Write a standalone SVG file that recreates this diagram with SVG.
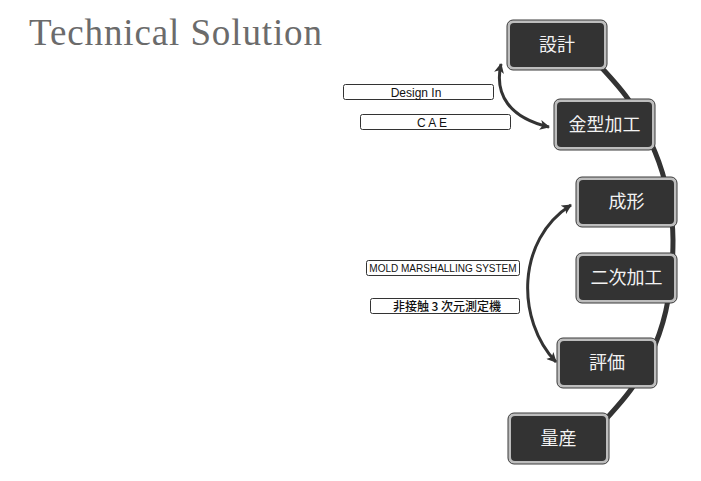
<svg xmlns="http://www.w3.org/2000/svg" width="701" height="481" viewBox="0 0 701 481">
<defs>
<style>
.title{font-family:"Liberation Serif","DejaVu Serif",serif;font-size:37px;fill:#6b6b6b}
.nodeOuter{fill:#bdbdbd;stroke:#3a3a3a;stroke-width:1}
.nodeInner{fill:#333333}
.nodeText{font-family:"Noto Sans CJK JP","Noto Sans",sans-serif;font-size:18px;fill:#f2f2f2;text-anchor:middle}
.lbl{fill:#ffffff;stroke:#333333;stroke-width:1}
.lblText{font-family:"Liberation Sans","Noto Sans CJK JP",sans-serif;font-size:12px;fill:#111111;text-anchor:middle}
.flow{fill:none;stroke:#333333;stroke-width:5}
.arc{fill:none;stroke:#333333;stroke-width:3}
</style>
<marker id="ah" viewBox="0 0 10 10" refX="9" refY="5" markerWidth="11" markerHeight="10" markerUnits="userSpaceOnUse" orient="auto-start-reverse">
<path d="M0,0 L10,5 L0,10 L2.5,5 Z" fill="#333333"/>
</marker>
</defs>
<rect width="701" height="481" fill="#ffffff"/>
<text class="title" x="29" y="45" textLength="293" lengthAdjust="spacing">Technical Solution</text>

<g id="connectors">
<path class="flow" d="M585,50 C592.2,58.2 616.3,82 628,99 C639.7,116 648.3,136 655,152 C661.7,168 665,180.3 668,195 C671,209.7 673,222.5 673,240 C673,257.5 671,282.5 668,300 C665,317.5 661,330.3 655,345 C649,359.7 641.5,374.2 632,388 C622.5,401.8 603.7,421.3 598,428"/>
<path class="arc" d="M501,64 C494,95 510,118 549,127" marker-start="url(#ah)" marker-end="url(#ah)"/>
<path class="arc" d="M571,205 C516,240 516,320 556,362" marker-start="url(#ah)" marker-end="url(#ah)"/>
</g>

<g id="label-design-in">
<rect class="lbl" x="343.5" y="84.5" width="150" height="15" rx="2"/>
<text class="lblText" x="416" y="96.5">Design In</text>
</g>
<g id="label-cae">
<rect class="lbl" x="360.5" y="114.5" width="150" height="15" rx="2"/>
<text class="lblText" x="432" y="126.5">C A E</text>
</g>
<g id="label-mold">
<rect class="lbl" x="366.5" y="260.5" width="153" height="15" rx="2"/>
<text class="lblText" x="443" y="272" style="font-size:10px">MOLD MARSHALLING SYSTEM</text>
</g>
<g id="label-measure">
<rect class="lbl" x="370.5" y="298.5" width="149" height="15" rx="2"/>
<text class="lblText" x="447" y="310.5" style="font-family:'Noto Sans CJK JP',sans-serif;font-size:12px;font-weight:500">非接触 3 次元測定機</text>
</g>

<g id="node-sekkei">
<rect class="nodeOuter" x="507" y="20" width="100" height="50" rx="6"/>
<rect class="nodeInner" x="510" y="23" width="94" height="44" rx="4"/>
<text class="nodeText" x="557" y="51">設計</text>
</g>
<g id="node-kanagata">
<rect class="nodeOuter" x="554" y="99" width="101" height="51" rx="6"/>
<rect class="nodeInner" x="557" y="102" width="95" height="45" rx="4"/>
<text class="nodeText" x="604.5" y="131">金型加工</text>
</g>
<g id="node-seikei">
<rect class="nodeOuter" x="576" y="177" width="101" height="50" rx="6"/>
<rect class="nodeInner" x="579" y="180" width="95" height="44" rx="4"/>
<text class="nodeText" x="626.5" y="208">成形</text>
</g>
<g id="node-niji">
<rect class="nodeOuter" x="576" y="253" width="101" height="50" rx="6"/>
<rect class="nodeInner" x="579" y="256" width="95" height="44" rx="4"/>
<text class="nodeText" x="626.5" y="284">二次加工</text>
</g>
<g id="node-hyoka">
<rect class="nodeOuter" x="557" y="338" width="100" height="50" rx="6"/>
<rect class="nodeInner" x="560" y="341" width="94" height="44" rx="4"/>
<text class="nodeText" x="607" y="369">評価</text>
</g>
<g id="node-ryosan">
<rect class="nodeOuter" x="508" y="413" width="101" height="51" rx="6"/>
<rect class="nodeInner" x="511" y="416" width="95" height="45" rx="4"/>
<text class="nodeText" x="558.5" y="445">量産</text>
</g>
</svg>
